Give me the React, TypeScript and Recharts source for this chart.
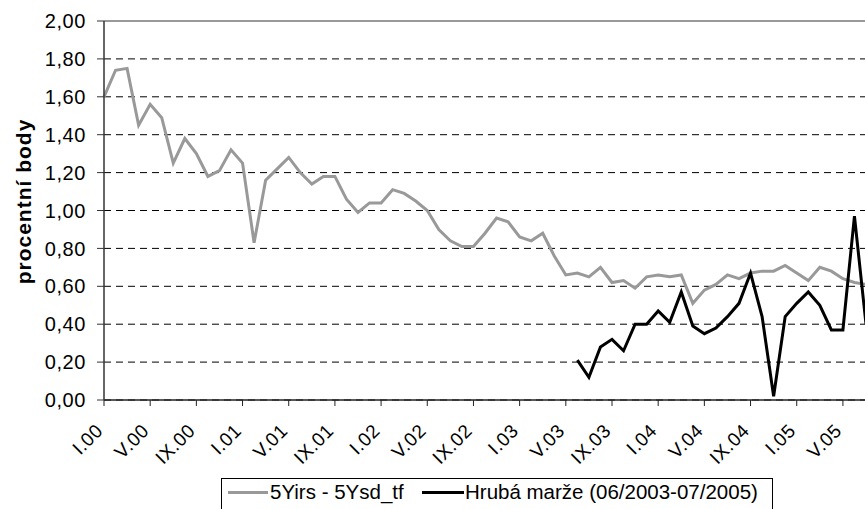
import {
  LineChart,
  Line,
  XAxis,
  YAxis,
  CartesianGrid,
  ReferenceLine,
  Legend,
  Label,
} from "recharts";

// months I.00 .. VII.05
const romanMonths = ["I", "II", "III", "IV", "V", "VI", "VII", "VIII", "IX", "X", "XI", "XII"];
const years = ["00", "01", "02", "03", "04", "05"];
const months = years
  .flatMap((y) => romanMonths.map((m) => `${m}.${y}`))
  .slice(0, 67);

// 5Yirs - 5Ysd_tf
const spreadValues = [
  1.6, 1.74, 1.75, 1.45, 1.56, 1.49, 1.25, 1.38, 1.3, 1.18,
  1.21, 1.32, 1.25, 0.83, 1.16, 1.22, 1.28, 1.2, 1.14, 1.18,
  1.18, 1.06, 0.99, 1.04, 1.04, 1.11, 1.09, 1.05, 1.0, 0.9,
  0.84, 0.81, 0.81, 0.88, 0.96, 0.94, 0.86, 0.84, 0.88, 0.76,
  0.66, 0.67, 0.65, 0.7, 0.62, 0.63, 0.59, 0.65, 0.66, 0.65,
  0.66, 0.51, 0.58, 0.61, 0.66, 0.64, 0.67, 0.68, 0.68, 0.71,
  0.67, 0.63, 0.7, 0.68, 0.64, 0.62, 0.61,
];

// Hrubá marže, starts at VI.03
const marginStart = 41;
const marginValues = [
  0.21, 0.12, 0.28, 0.32, 0.26, 0.4, 0.4, 0.47, 0.41, 0.57,
  0.39, 0.35, 0.38, 0.44, 0.51, 0.67, 0.44, 0.02, 0.44, 0.51,
  0.57, 0.5, 0.37, 0.37, 0.97, 0.4,
];

const yTicks = [0, 0.2, 0.4, 0.6, 0.8, 1, 1.2, 1.4, 1.6, 1.8, 2];

const data = months.map((month, i) => ({
  month,
  spread: spreadValues[i],
  margin: i >= marginStart ? marginValues[i - marginStart] : null,
}));

const FONT = '"Liberation Sans", Arial, sans-serif';

const fmt = (v: number) => v.toFixed(2).replace(".", ",");

function MonthTick(props: any) {
  const { x, y, payload } = props;
  const ty = y + 26;
  return (
    <text
      x={x}
      y={ty}
      transform={`rotate(-45, ${x}, ${ty})`}
      textAnchor="end"
      fontSize={19}
      fontFamily={FONT}
      letterSpacing={0.5}
      fill="#000"
    >
      {payload.value}
    </text>
  );
}

function YTitle() {
  return (
    <text
      x={23.5}
      y={201.5}
      transform="rotate(-90, 23.5, 201.5)"
      textAnchor="middle"
      dominantBaseline="central"
      fontSize={21}
      fontWeight="bold"
      fontFamily={FONT}
      letterSpacing={1}
      fill="#000"
    >
      procentní body
    </text>
  );
}

function LegendBox() {
  const txt: React.CSSProperties = {
    position: "absolute",
    top: 1,
    fontSize: 20.5,
    fontFamily: FONT,
    lineHeight: "24px",
    whiteSpace: "nowrap",
    color: "#000",
  };
  return (
    <div
      style={{
        position: "relative",
        width: 552,
        height: 34,
        border: "1px solid #000",
        boxSizing: "border-box",
        background: "#fff",
      }}
    >
      <div style={{ position: "absolute", left: 6, top: 12, width: 40, height: 3, background: "#999" }} />
      <span style={{ ...txt, left: 48 }}>5Yirs - 5Ysd_tf</span>
      <div style={{ position: "absolute", left: 200, top: 12, width: 42, height: 3, background: "#000" }} />
      <span style={{ ...txt, left: 243 }}>Hrubá marže (06/2003-07/2005)</span>
    </div>
  );
}

export default function App() {
  return (
    <div
      style={{
        position: "absolute",
        left: 0,
        top: 0,
        width: 865,
        height: 509,
        overflow: "hidden",
        background: "#fff",
      }}
    >
      <LineChart
        width={870}
        height={509}
        data={data}
        margin={{ top: 21, right: 4, bottom: 0, left: 0 }}
      >
        <CartesianGrid
          horizontal
          vertical={false}
          stroke="#000"
          strokeDasharray="7 5"
        />
        <XAxis
          dataKey="month"
          interval={3}
          height={109}
          tick={<MonthTick />}
          tickSize={6}
          tickMargin={0}
          axisLine={{ stroke: "#222", strokeWidth: 1.5 }}
          tickLine={{ stroke: "#222" }}
        />
        <YAxis
          width={104}
          domain={[0, 2]}
          ticks={yTicks}
          tickFormatter={fmt}
          tickSize={7}
          tickMargin={11}
          axisLine={{ stroke: "#333", strokeWidth: 1.5 }}
          tickLine={{ stroke: "#333" }}
          tick={{ fontSize: 20, fontFamily: FONT, fill: "#000", letterSpacing: 0.6 }}
        >
          <Label content={<YTitle />} />
        </YAxis>
        <ReferenceLine y={2} stroke="#999" strokeWidth={2} />
        <Line
          type="linear"
          dataKey="spread"
          stroke="#999"
          strokeWidth={3}
          dot={false}
          isAnimationActive={false}
        />
        <Line
          type="linear"
          dataKey="margin"
          stroke="#000"
          strokeWidth={3}
          dot={false}
          isAnimationActive={false}
        />
        <Legend
          layout="horizontal"
          verticalAlign="middle"
          align="center"
          content={<LegendBox />}
          wrapperStyle={{ left: 221, top: 478, width: 552, height: 34 }}
        />
      </LineChart>
    </div>
  );
}
